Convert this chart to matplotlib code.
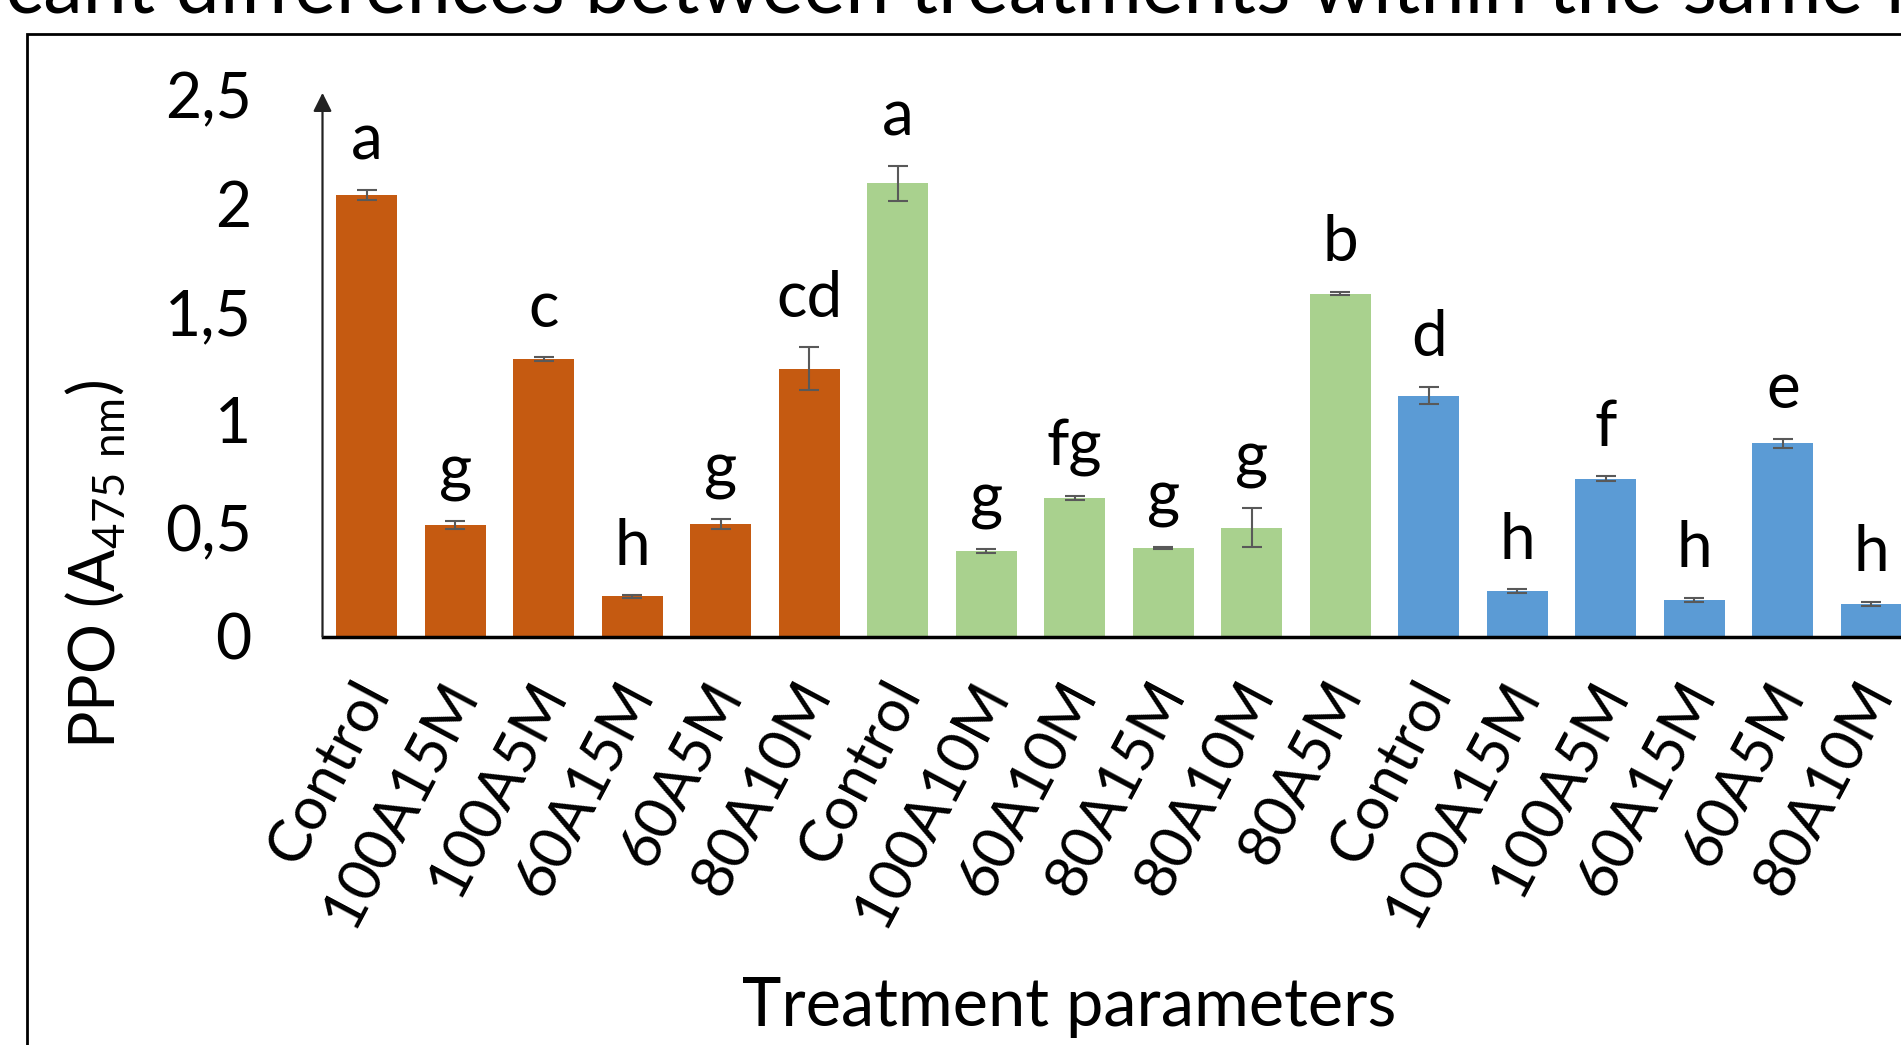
import numpy as np
import matplotlib.pyplot as plt
from matplotlib.patches import Rectangle
from matplotlib.transforms import ScaledTranslation

plt.rcParams['font.family'] = ['Lato', 'DejaVu Sans']
plt.rcParams['mathtext.fontset'] = 'custom'
plt.rcParams['mathtext.rm'] = 'Lato'

# PPO activity per treatment, three groups of six bars
treatments = ['Control', '100A15M', '100A5M', '60A15M', '60A5M', '80A10M',
              'Control', '100A10M', '60A10M', '80A15M', '80A10M', '80A5M',
              'Control', '100A15M', '100A5M', '60A15M', '60A5M', '80A10M']
ppo = [2.038, 0.516, 1.281, 0.185, 0.520, 1.236,
       2.093, 0.396, 0.638, 0.408, 0.503, 1.583,
       1.112, 0.209, 0.728, 0.169, 0.893, 0.151]
sd = [0.022, 0.018, 0.008, 0.006, 0.024, 0.100,
      0.081, 0.010, 0.010, 0.005, 0.090, 0.008,
      0.040, 0.010, 0.011, 0.009, 0.021, 0.009]
letters = ['a', 'g', 'c', 'h', 'g', 'cd',
           'a', 'g', 'fg', 'g', 'g', 'b',
           'd', 'h', 'f', 'h', 'e', 'h']
group_colors = ['#C55A11', '#A9D18E', '#5B9BD5']
yticks = [0, 0.5, 1, 1.5, 2, 2.5]
ytick_labels = ['0', '0,5', '1', '1,5', '2', '2,5']

W, H = 1901, 1045
fig = plt.figure(figsize=(W / 100, H / 100), dpi=100)

# axes run past the right edge, like the cropped original
ax = fig.add_axes([322.5 / W, 1 - 636.5 / H, 18 * 88.5 / W, (636.5 - 95) / H])
x = np.arange(len(ppo))
colors = np.repeat(group_colors, 6)
ax.bar(x, ppo, width=0.69, color=colors, zorder=2)
ax.errorbar(x, ppo, yerr=sd, fmt='none', ecolor='#595959', elinewidth=1.5,
            capsize=7, capthick=1.5, zorder=3)

for i in range(len(ppo)):
    ax.annotate(letters[i], (x[i], ppo[i] + sd[i]), xytext=(0, 22),
                textcoords='offset points', ha='center', va='baseline',
                fontsize=46, annotation_clip=False)

ax.set_xlim(-0.5, 17.5)
ax.set_ylim(0, 2.5)
for s in ['top', 'right', 'left']:
    ax.spines[s].set_visible(False)
ax.spines['bottom'].set_linewidth(2.5)
ax.spines['bottom'].set_color('black')

ax.annotate('', xy=(-0.5, 2.51), xytext=(-0.5, 0),
            arrowprops=dict(arrowstyle='-|>', color='#222222', lw=1.6,
                            mutation_scale=28, shrinkA=0, shrinkB=0),
            annotation_clip=False)

ax.set_yticks(yticks)
ax.set_yticklabels(ytick_labels, fontsize=45)
ax.tick_params(axis='y', length=0, pad=51)
ax.set_xticks(x)
ax.set_xticklabels(treatments, rotation=62, ha='right', va='center',
                   rotation_mode='anchor', fontsize=43)
ax.tick_params(axis='x', length=0, pad=35)
shift = ScaledTranslation(8 / 100, 0, fig.dpi_scale_trans)
for lab in ax.get_xticklabels():
    lab.set_transform(lab.get_transform() + shift)

fig.text(95 / W, 1 - 565 / H, 'PPO (A$_{\\mathrm{475\\ nm}}$)', rotation=90,
         ha='center', va='center', fontsize=45)
fig.text(1069 / W, 1 - 1026 / H, 'Treatment parameters', ha='center',
         va='baseline', fontsize=48)

# title is cut off at the top of the picture; place it so "differences" starts at x=176px
title = 'significant differences between treatments within the same fruit'
renderer = fig.canvas.get_renderer()
t1 = fig.text(0, 0, 'significant differences', fontsize=57)
t2 = fig.text(0, 0, 'differences', fontsize=57)
prefix_w = t1.get_window_extent(renderer).width - t2.get_window_extent(renderer).width
t1.remove()
t2.remove()
fig.text((176 - prefix_w) / W, 1 - 12 / H, title, ha='left', va='baseline', fontsize=57)

fig.patches.append(Rectangle((26.7 / W, -0.1), 2, 1 - 34 / H + 0.1,
                             transform=fig.transFigure, fill=False, lw=2,
                             ec='black'))

fig.savefig('out.png', dpi=100)
